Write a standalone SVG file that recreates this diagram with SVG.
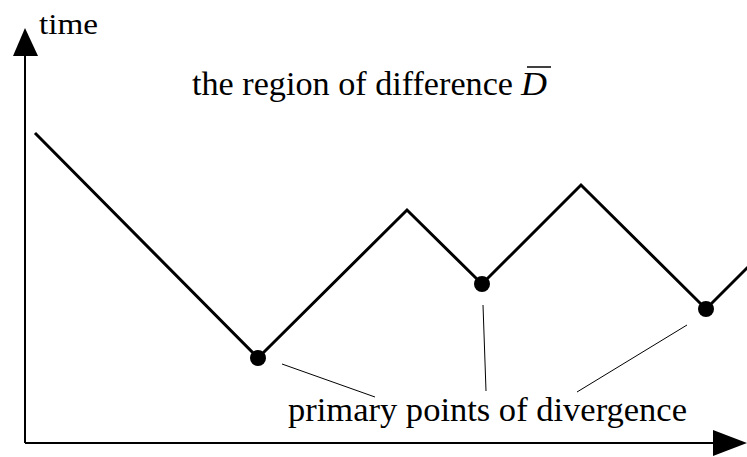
<svg xmlns="http://www.w3.org/2000/svg" width="747" height="457" viewBox="0 0 747 457">
<style>
text{font-family:"Liberation Serif","Times New Roman",serif;fill:#000}
.axis{stroke:#000;stroke-width:2;fill:none}
.curve{stroke:#000;stroke-width:3;fill:none;stroke-linejoin:miter}
.lead{stroke:#000;stroke-width:1;fill:none}
.dot{fill:#000}
</style>
<rect width="747" height="457" fill="#fff"/>
<g id="axes">
<line class="axis" x1="25" y1="443" x2="25" y2="52"/>
<polygon points="25,28 13,56 38,56" fill="#000"/>
<line class="axis" x1="25" y1="443" x2="716" y2="443"/>
<polygon points="747,443 713,430 713,456" fill="#000"/>
<text id="time" x="39" y="34" font-size="30" textLength="59" lengthAdjust="spacingAndGlyphs">time</text>
</g>
<g id="curve">
<polyline class="curve" points="35,133 258,358 407,210 482,284 581,185 706,309 749,266"/>
</g>
<g id="points">
<circle class="dot" cx="258" cy="358" r="8"/>
<circle class="dot" cx="482" cy="284" r="8"/>
<circle class="dot" cx="706" cy="309" r="8"/>
</g>
<g id="connectors">
<line class="lead" x1="282" y1="364" x2="375" y2="397"/>
<line class="lead" x1="483" y1="305" x2="486" y2="391"/>
<line class="lead" x1="687" y1="325" x2="577" y2="392"/>
</g>
<g id="labels">
<text x="192" y="95" font-size="33" textLength="321" lengthAdjust="spacingAndGlyphs">the region of difference</text>
<text x="521" y="95" font-size="33" font-style="italic" textLength="26" lengthAdjust="spacingAndGlyphs">D</text>
<line x1="527" y1="67" x2="551" y2="67" stroke="#000" stroke-width="1.5"/>
<text x="288" y="421" font-size="34" textLength="399" lengthAdjust="spacingAndGlyphs">primary points of divergence</text>
</g>
</svg>
